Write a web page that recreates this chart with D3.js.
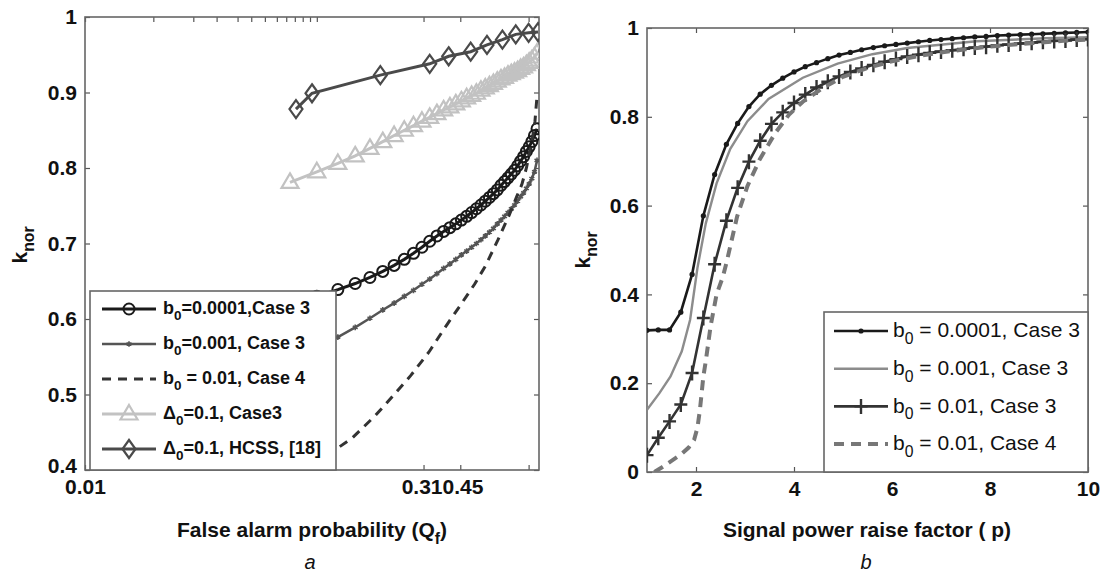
<!DOCTYPE html>
<html>
<head>
<meta charset="utf-8">
<script src="https://cdn.jsdelivr.net/npm/d3@7"></script>
<style>
  body { margin: 0; background: #fff; }
  svg { font-family: "Liberation Sans", Arial, sans-serif; }
</style>
</head>
<body>
<script>
// ---- panel a data (false alarm probability Qf vs k_nor)
const qf = [0.08, 0.105, 0.13, 0.155, 0.18, 0.205, 0.23, 0.255, 0.28, 0.305, 0.33, 0.355, 0.38, 0.405, 0.43, 0.455, 0.48, 0.505, 0.53, 0.555, 0.58, 0.605, 0.63, 0.655, 0.68, 0.705, 0.73, 0.755, 0.78, 0.805, 0.83, 0.855, 0.88, 0.905, 0.93, 0.955, 0.98];
const circB0001 = [0.62, 0.63, 0.639, 0.647, 0.655, 0.663, 0.671, 0.679, 0.687, 0.695, 0.703, 0.71, 0.716, 0.721, 0.726, 0.731, 0.736, 0.741, 0.746, 0.751, 0.756, 0.761, 0.766, 0.771, 0.777, 0.782, 0.787, 0.792, 0.797, 0.803, 0.809, 0.815, 0.822, 0.828, 0.835, 0.843, 0.852];
const starB001 = [0.55, 0.563, 0.576, 0.589, 0.601, 0.612, 0.621, 0.63, 0.638, 0.646, 0.653, 0.66, 0.667, 0.673, 0.679, 0.685, 0.69, 0.695, 0.7, 0.705, 0.71, 0.715, 0.72, 0.726, 0.731, 0.736, 0.741, 0.746, 0.751, 0.756, 0.762, 0.767, 0.773, 0.779, 0.786, 0.795, 0.81];
const triDelta = [0.781, 0.795, 0.806, 0.816, 0.826, 0.835, 0.843, 0.85, 0.856, 0.862, 0.867, 0.872, 0.877, 0.881, 0.885, 0.889, 0.893, 0.896, 0.899, 0.903, 0.906, 0.909, 0.912, 0.915, 0.918, 0.92, 0.923, 0.925, 0.927, 0.929, 0.932, 0.934, 0.937, 0.94, 0.943, 0.947, 0.952];
const dashQf = [0.1, 0.124, 0.15, 0.19, 0.227, 0.272, 0.327, 0.39, 0.45, 0.52, 0.58, 0.66, 0.74, 0.8, 0.84, 0.88, 0.93, 0.96, 0.98];
const dashB01 = [0.41, 0.425, 0.442, 0.472, 0.498, 0.525, 0.556, 0.591, 0.618, 0.646, 0.67, 0.705, 0.738, 0.763, 0.778, 0.8, 0.834, 0.862, 0.895];
const hcssQf = [0.085, 0.1, 0.2, 0.33, 0.4, 0.5, 0.59, 0.69, 0.79, 0.9, 0.99];
const hcss = [0.878, 0.899, 0.923, 0.938, 0.948, 0.954, 0.963, 0.97, 0.977, 0.979, 0.98];

const xTicksA = [0.01, 0.02, 0.03, 0.038, 0.047, 0.054, 0.062, 0.07, 0.077, 0.084, 0.091, 0.098, 0.105, 0.31, 0.45, 0.9];
const xLabelsA = [0.01, 0.31, 0.45];
const yTicksA = [0.4, 0.5, 0.6, 0.7, 0.8, 0.9, 1];

// ---- panel b data (signal power raise factor p vs k_nor)
const pGrid = [1, 1.23, 1.46, 1.69, 1.92, 2.15, 2.38, 2.62, 2.85, 3.08, 3.31, 3.54, 3.77, 4.0, 4.23, 4.46, 4.69, 4.92, 5.15, 5.38, 5.62, 5.85, 6.08, 6.31, 6.54, 6.77, 7.0, 7.23, 7.46, 7.69, 7.92, 8.15, 8.38, 8.62, 8.85, 9.08, 9.31, 9.54, 9.77, 10];
const pB0001 = [0.319, 0.32, 0.32, 0.36, 0.445, 0.577, 0.67, 0.738, 0.785, 0.823, 0.851, 0.871, 0.887, 0.901, 0.913, 0.922, 0.931, 0.939, 0.945, 0.951, 0.956, 0.96, 0.963, 0.966, 0.969, 0.972, 0.974, 0.976, 0.978, 0.98, 0.981, 0.983, 0.984, 0.985, 0.986, 0.987, 0.988, 0.989, 0.99, 0.991];
const pB01c3 = [0.038, 0.077, 0.114, 0.152, 0.223, 0.347, 0.468, 0.566, 0.64, 0.699, 0.746, 0.784, 0.81, 0.831, 0.85, 0.866, 0.879, 0.891, 0.901, 0.909, 0.917, 0.924, 0.93, 0.936, 0.94, 0.944, 0.947, 0.95, 0.953, 0.956, 0.958, 0.961, 0.963, 0.965, 0.967, 0.969, 0.971, 0.972, 0.974, 0.975];
const p2 = [1, 1.25, 1.48, 1.71, 1.88, 2.03, 2.2, 2.42, 2.7, 3.05, 3.48, 4.18, 4.89, 5.6, 6.31, 7.72, 9.14, 10];
const pB001 = [0.14, 0.177, 0.215, 0.272, 0.343, 0.46, 0.56, 0.65, 0.728, 0.79, 0.84, 0.888, 0.92, 0.941, 0.955, 0.97, 0.977, 0.979];
const p4 = [1.15, 1.3, 1.5, 1.7, 1.85, 1.96, 2.03, 2.08, 2.15, 2.2, 2.3, 2.42, 2.55, 2.63, 2.84, 3.05, 3.3, 3.62, 3.9, 4.18, 4.6, 5, 5.5, 6, 6.5, 7, 7.5, 8, 8.5, 9, 9.5, 10];
const pB01c4 = [0, 0.01, 0.025, 0.04, 0.055, 0.072, 0.1, 0.14, 0.215, 0.25, 0.33, 0.4, 0.44, 0.475, 0.576, 0.644, 0.704, 0.764, 0.805, 0.834, 0.866, 0.89, 0.91, 0.925, 0.936, 0.945, 0.952, 0.958, 0.963, 0.967, 0.971, 0.974];

const xTicksB = [2, 4, 6, 8, 10];
const yTicksB = [0, 0.2, 0.4, 0.6, 0.8, 1];

const svg = d3.select('body').append('svg').attr('width', 1105).attr('height', 572);

const zip = (xs, ys) => xs.map((x, i) => [x, ys[i]]);

// draw a framed MATLAB-style box with inward ticks on all four sides
const drawFrame = (g, x, y, xt, yt, xfmt, yfmt, id) => {
  const [x0, x1] = x.range();
  const [y0, y1] = y.range();
  g.append('clipPath').attr('id', id).append('rect')
    .attr('x', x0).attr('y', y1).attr('width', x1 - x0).attr('height', y0 - y1);
  g.append('g').attr('class', 'xb').attr('transform', `translate(0,${y0})`)
    .call(d3.axisBottom(x).tickValues(xt).tickSize(-5).tickPadding(9).tickFormat(xfmt));
  g.append('g').attr('transform', `translate(0,${y1})`)
    .call(d3.axisTop(x).tickValues(xt).tickSize(-5).tickFormat(''));
  g.append('g').attr('transform', `translate(${x0},0)`)
    .call(d3.axisLeft(y).tickValues(yt).tickSize(-5).tickPadding(8).tickFormat(yfmt));
  g.append('g').attr('transform', `translate(${x1},0)`)
    .call(d3.axisRight(y).tickValues(yt).tickSize(-5).tickFormat(''));
  g.selectAll('.domain').remove();
  g.selectAll('.tick line').attr('stroke', '#555').attr('stroke-width', 1.2);
  g.selectAll('.tick text').attr('font-size', 21).attr('font-weight', 'bold').attr('fill', '#111')
    .attr('font-family', '"Liberation Sans", Arial, sans-serif');
  g.append('rect').attr('x', x0).attr('y', y1).attr('width', x1 - x0).attr('height', y0 - y1)
    .attr('fill', 'none').attr('stroke', '#666').attr('stroke-width', 1.6);
};

const marker = (sel, type, color) => {
  if (type === 'circle') {
    sel.append('circle').attr('r', 5.5).attr('fill', 'none').attr('stroke', color).attr('stroke-width', 2);
  } else if (type === 'dot') {
    sel.append('circle').attr('r', 2.6).attr('fill', color);
  } else if (type === 'star') {
    sel.append('path').attr('d', d3.symbol(d3.symbolAsterisk, 22)()).attr('fill', 'none')
      .attr('stroke', color).attr('stroke-width', 1.6);
  } else if (type === 'tri') {
    sel.append('path').attr('d', 'M0,-9L8.5,5.5L-8.5,5.5Z').attr('fill', 'none')
      .attr('stroke', color).attr('stroke-width', 2.2);
  } else if (type === 'diamond') {
    sel.append('path').attr('d', 'M0,-9L6.5,0L0,9L-6.5,0Z').attr('fill', 'none')
      .attr('stroke', color).attr('stroke-width', 2.2);
  } else if (type === 'plus') {
    sel.append('path').attr('d', 'M-6.5,0H6.5M0,-7.5V7.5').attr('fill', 'none')
      .attr('stroke', color).attr('stroke-width', 2.4);
  }
};

const drawSeries = (g, x, y, pts, s, clip) => {
  const line = d3.line().x(d => x(d[0])).y(d => y(d[1]));
  const sg = g.append('g').attr('clip-path', `url(#${clip})`);
  sg.append('path').datum(pts).attr('d', line).attr('fill', 'none')
    .attr('stroke', s.color).attr('stroke-width', s.width)
    .attr('stroke-dasharray', s.dash || null);
  if (s.marker) {
    sg.selectAll('g.m').data(pts).enter().append('g')
      .attr('transform', d => `translate(${x(d[0])},${y(d[1])})`)
      .each(function () { marker(d3.select(this), s.marker, s.color); });
  }
};

const legendText = (t, pre, sub, post, size) => {
  t.append('tspan').text(pre);
  t.append('tspan').attr('dy', size * 0.32).attr('font-size', size * 0.75).text(sub);
  t.append('tspan').attr('dy', -size * 0.32).text(post);
};

const drawLegend = (g, box, items, opt) => {
  g.append('rect').attr('x', box.x).attr('y', box.y).attr('width', box.w).attr('height', box.h)
    .attr('fill', '#fff').attr('stroke', '#666').attr('stroke-width', 1.6);
  items.forEach((it, i) => {
    const cy = opt.y0 + i * opt.dy;
    const ig = g.append('g');
    ig.append('line').attr('x1', opt.lx0).attr('x2', opt.lx1).attr('y1', cy).attr('y2', cy)
      .attr('stroke', it.color).attr('stroke-width', it.width).attr('stroke-dasharray', it.dash || null);
    if (it.marker) {
      const mg = ig.append('g').attr('transform', `translate(${(opt.lx0 + opt.lx1) / 2},${cy})`);
      marker(mg, it.marker, it.color);
    }
    const t = ig.append('text').attr('x', opt.tx).attr('y', cy + opt.size * 0.3)
      .attr('font-size', opt.size).attr('font-weight', opt.weight).attr('fill', '#111');
    legendText(t, it.pre, it.sub, it.post, opt.size);
  });
};

const axisLabel = (g, x, y, pre, sub, post, rotate) => {
  const t = g.append('text').attr('font-size', 21).attr('font-weight', 'bold').attr('fill', '#111')
    .attr('text-anchor', 'middle')
    .attr('transform', `translate(${x},${y})` + (rotate ? ' rotate(-90)' : ''));
  legendText(t, pre, sub, post, 21);
};

// ---- panel a
const xa = d3.scaleLog().domain([0.01, 1]).range([85, 539]);
const ya = d3.scaleLinear().domain([0.4, 1]).range([470, 17]);
const ga = svg.append('g');
drawFrame(ga, xa, ya, xTicksA, yTicksA,
  d => (xLabelsA.includes(d) ? String(d) : ''), d => String(d), 'clipA');
// 0.31 and 0.45 labels sit edge to edge, as in the original ("0.310.45")
ga.selectAll('.xb .tick text')
  .attr('text-anchor', d => (d === 0.31 ? 'end' : d === 0.45 ? 'start' : 'middle'))
  .attr('x', d => (d === 0.31 ? 442 - xa(d) : d === 0.45 ? 442 - xa(d) : 0));
ga.selectAll('.tick text').filter(d => d === 0.4).attr('dy', '0.1em');

const seriesA = [
  { pts: zip(qf, circB0001), color: '#1a1a1a', width: 3, marker: 'circle', pre: 'b', sub: '0', post: '=0.0001,Case 3' },
  { pts: zip(qf, starB001), color: '#555', width: 2.5, marker: 'star', pre: 'b', sub: '0', post: '=0.001, Case 3' },
  { pts: zip(dashQf, dashB01), color: '#333', width: 3, dash: '9,7', pre: 'b', sub: '0', post: ' = 0.01, Case 4' },
  { pts: zip(qf, triDelta), color: '#c2c2c2', width: 3, marker: 'tri', pre: 'Δ', sub: '0', post: '=0.1, Case3' },
  { pts: zip(hcssQf, hcss), color: '#4a4a4a', width: 3, marker: 'diamond', pre: 'Δ', sub: '0', post: '=0.1, HCSS, [18]' },
];
seriesA.forEach(s => drawSeries(ga, xa, ya, s.pts, s, 'clipA'));
drawLegend(ga, { x: 90, y: 291, w: 246, h: 179 }, seriesA,
  { y0: 309, dy: 35, lx0: 102, lx1: 156, tx: 163, size: 18, weight: 'bold' });
axisLabel(ga, 312, 537, 'False alarm probability (Q', 'f', ')', false);
axisLabel(ga, 27, 245, 'k', 'nor', '', true);
ga.append('text').attr('x', 310).attr('y', 569).attr('text-anchor', 'middle')
  .attr('font-size', 20).attr('font-style', 'italic').attr('fill', '#111').text('a');

// ---- panel b
const xb = d3.scaleLinear().domain([1, 10]).range([647, 1088]);
const yb = d3.scaleLinear().domain([0, 1]).range([472, 28]);
const gb = svg.append('g');
drawFrame(gb, xb, yb, xTicksB, yTicksB, d => String(d), d => String(d), 'clipB');

const seriesB = [
  { pts: zip(pGrid, pB0001), color: '#1a1a1a', width: 2.6, marker: 'dot', pre: 'b', sub: '0', post: ' = 0.0001, Case 3' },
  { pts: zip(p2, pB001), color: '#8c8c8c', width: 2.4, pre: 'b', sub: '0', post: ' = 0.001, Case 3' },
  { pts: zip(pGrid, pB01c3), color: '#333', width: 2.6, marker: 'plus', pre: 'b', sub: '0', post: ' = 0.01, Case 3' },
  { pts: zip(p4, pB01c4), color: '#777', width: 4, dash: '10,7', pre: 'b', sub: '0', post: ' = 0.01, Case 4' },
];
seriesB.forEach(s => drawSeries(gb, xb, yb, s.pts, s, 'clipB'));
drawLegend(gb, { x: 824, y: 312, w: 264, h: 160 }, seriesB,
  { y0: 331, dy: 37.7, lx0: 834, lx1: 888, tx: 893, size: 21, weight: 'normal' });
axisLabel(gb, 867, 537, 'Signal power raise factor ( p)', '', '', false);
axisLabel(gb, 590, 250, 'k', 'nor', '', true);
gb.append('text').attr('x', 866).attr('y', 569).attr('text-anchor', 'middle')
  .attr('font-size', 20).attr('font-style', 'italic').attr('fill', '#111').text('b');
</script>
</body>
</html>
